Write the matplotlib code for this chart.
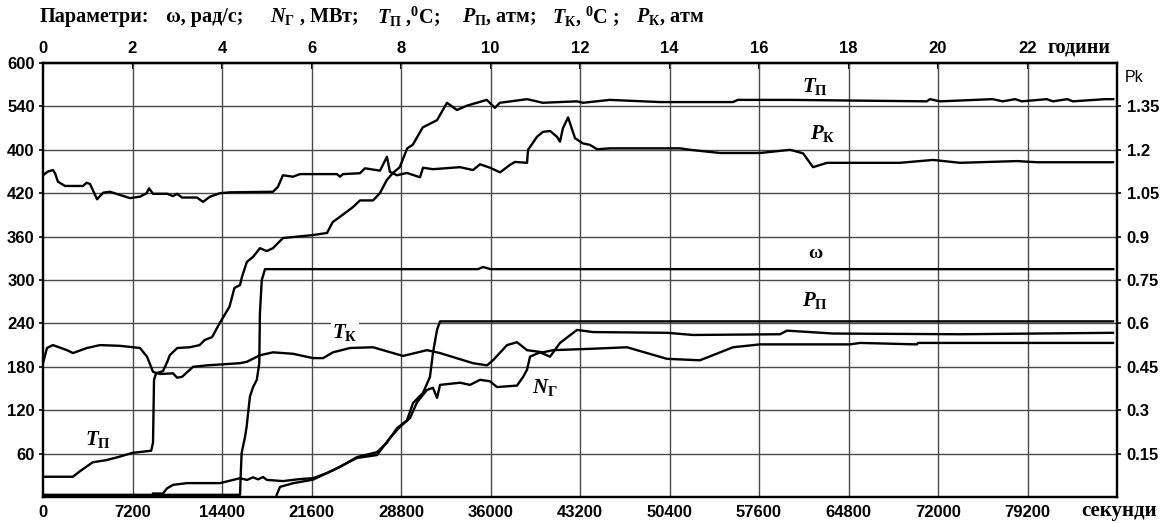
import matplotlib
matplotlib.use("Agg")
import matplotlib.pyplot as plt
from matplotlib import font_manager as fm

# ---------------- data ----------------
# time in seconds; T, omega, N on left scale; pressures on right scale (atm)
t_tp = [0, 2400, 3000, 4000, 5100, 6000, 7200, 8700, 8850, 8930, 9100, 9650, 10000, 10200,
        10800, 11800, 12600, 13000, 13600, 14200, 15000, 15400, 15850, 16000, 16400, 16900,
        17450, 18000, 18500, 19300, 21650, 22850, 23300, 24100, 24950, 25500, 26550, 27100,
        27650, 28150, 28700, 29300, 29750, 30550, 31700, 32500, 33300, 34100, 35700, 36350,
        36750, 38950, 40200, 42950, 43450, 45600, 49650, 55500, 55900, 60100, 71100, 71350,
        72150, 76400, 77200, 78200, 78750, 80750, 81250, 82400, 82850, 85450, 86100]
v_tp = [28, 28, 36, 48, 51, 55, 61, 64, 75, 162, 171, 174, 187, 196, 206, 207, 210, 217, 221,
        240, 263, 289, 293, 304, 325, 332, 344, 340, 344, 358, 362, 365, 380, 390, 401, 410,
        410, 420, 438, 448, 456, 482, 487, 511, 521, 545, 535, 541, 549, 538, 545, 550, 545,
        547, 545, 549, 546, 546, 549, 549, 547, 550, 547, 550, 547, 550, 547, 550, 547, 550,
        547, 550, 550]

t_w = [0, 15850, 15900, 15980, 16250, 16380, 16500, 16650, 16900, 17200, 17400, 17450, 17600,
       17860, 35000, 35400, 36000, 86100]
v_w = [3, 3, 28, 61, 83, 97, 116, 139, 152, 162, 185, 254, 300, 315, 315, 318, 315, 315]

t_n = [18800, 19070, 20110, 21720, 23330, 25260, 26870, 27920, 28720, 29520, 30090, 30890,
       31370, 31700, 31940, 33550, 34350, 35160, 35960, 36520, 38130, 38620, 38940, 39180,
       39980, 40790, 41590, 42960, 44250, 50200, 52300, 59290, 59850, 63550, 73770, 86080]
v_n = [3, 14, 19, 24, 37, 54, 58, 82, 97, 109, 131, 148, 151, 137, 155, 158, 155, 162, 160,
       152, 154, 166, 176, 194, 200, 194, 213, 231, 228, 227, 224, 225, 230, 226, 225, 227]

t_k = [0, 320, 800, 1930, 2410, 3540, 4590, 6190, 7800, 8370, 8850, 9410, 10460, 10780, 11180,
       12070, 13190, 15850, 16410, 17460, 18500, 20110, 21720, 22530, 23330, 24700, 26550,
       28960, 30890, 31940, 34590, 35720, 36200, 37330, 38130, 38940, 40220, 41030, 44250,
       46980, 50200, 52850, 55510, 57680, 64920, 65730, 70310, 70390, 76990, 86080]
v_k = [185, 206, 210, 203, 199, 206, 210, 209, 206, 194, 173, 170, 171, 165, 166, 180, 182,
       185, 187, 196, 200, 198, 192, 192, 200, 206, 207, 195, 203, 199, 185, 182, 189, 210,
       214, 203, 200, 203, 205, 207, 191, 189, 207, 211, 211, 213, 211, 213, 213, 213]

t_pk = [0, 400, 800, 970, 1200, 1770, 3220, 3500, 3780, 4350, 4850, 5390, 6190, 7000, 7800,
        8340, 8530, 8850, 9980, 10460, 10780, 11180, 12390, 12870, 13440, 14240, 15040, 18500,
        18900, 19300, 20110, 20680, 23650, 23890, 24130, 25500, 25900, 27110, 27670, 27910,
        28480, 29280, 30330, 30570, 31370, 33550, 34590, 35160, 35960, 36770, 37570, 37970,
        38940, 39020, 39740, 40220, 40790, 41350, 41590, 41830, 42240, 42800, 43440, 44000,
        44570, 45610, 51250, 52050, 54460, 57680, 60100, 61140, 61950, 63070, 68940, 71600,
        73770, 78360, 79970, 86080]
v_pk = [1.112, 1.125, 1.13, 1.119, 1.09, 1.075, 1.075, 1.086, 1.082, 1.029, 1.052, 1.055,
        1.044, 1.033, 1.038, 1.05, 1.067, 1.048, 1.048, 1.04, 1.048, 1.035, 1.035, 1.02,
        1.038, 1.05, 1.053, 1.055, 1.072, 1.112, 1.107, 1.116, 1.116, 1.107, 1.116, 1.119,
        1.136, 1.128, 1.176, 1.124, 1.112, 1.12, 1.105, 1.138, 1.133, 1.14, 1.13, 1.15, 1.138,
        1.122, 1.148, 1.158, 1.155, 1.2, 1.245, 1.262, 1.265, 1.245, 1.228, 1.275, 1.312,
        1.24, 1.222, 1.217, 1.202, 1.205, 1.205, 1.2, 1.189, 1.189, 1.2, 1.188, 1.14, 1.155,
        1.155, 1.165, 1.155, 1.161, 1.157, 1.157]

t_pp = [8850, 9650, 9980, 10460, 11580, 14240, 15290, 15850, 16410, 16890, 17300, 17700, 18020,
        19310, 20680, 21720, 22850, 23890, 25260, 26870, 27670, 28480, 29280, 29770, 30570,
        31130, 31370, 31700, 31940, 86080]
v_pp = [0.012, 0.012, 0.03, 0.042, 0.048, 0.048, 0.059, 0.065, 0.059, 0.068, 0.061, 0.069,
        0.059, 0.055, 0.062, 0.065, 0.083, 0.104, 0.138, 0.155, 0.188, 0.238, 0.265, 0.325,
        0.36, 0.415, 0.498, 0.578, 0.607, 0.607]

sec_ticks = [0, 7200, 14400, 21600, 28800, 36000, 43200, 50400, 57600, 64800, 72000, 79200]
hour_ticks = [0, 2, 4, 6, 8, 10, 12, 14, 16, 18, 20, 22]
left_ticks = [60, 120, 180, 240, 300, 360, 420, 480, 540, 600]
left_labels = ["60", "120", "180", "240", "300", "360", "420", "400", "540", "600"]
right_ticks = [0.15, 0.3, 0.45, 0.6, 0.75, 0.9, 1.05, 1.2, 1.35]
right_labels = ["0.15", "0.3", "0.45", "0.6", "0.75", "0.9", "1.05", "1.2", "1.35"]

title_parts = ["Параметри:", "ω, рад/с;", r"$N_{\mathrm{Г}}$ , МВт;",
               r"$T_{\mathrm{П}}$ ,$^{\mathrm{0}}$C;", r"$P_{\mathrm{П}}$, атм;",
               r"$T_{\mathrm{К}}$, $^{\mathrm{0}}$C ;", r"$P_{\mathrm{К}}$, атм"]

# ---------------- fonts ----------------
avail = {f.name for f in fm.fontManager.ttflist}
if "Liberation Sans Narrow" in avail:
    tick_family = "Liberation Sans Narrow"
    tsize = 13.5
else:
    tick_family = "Liberation Sans"
    tsize = 12
serif = "Liberation Serif"
plt.rcParams["mathtext.fontset"] = "custom"
plt.rcParams["mathtext.rm"] = serif + ":bold"
plt.rcParams["mathtext.it"] = serif + ":italic:bold"
plt.rcParams["mathtext.bf"] = serif + ":bold"

W, H = 1161, 523
fig = plt.figure(figsize=(W / 100, H / 100), dpi=100)
L, R, B, T = 43, 1117, 497, 63
ax = fig.add_axes([L / W, 1 - B / H, (R - L) / W, (B - T) / H])
ax.set_xlim(0, 86400)
ax.set_ylim(0, 600)

ax2 = ax.twinx()
ax2.set_ylim(0, 1.5)

gridc = "#4a4a4a"
for s in sec_ticks[1:]:
    ax.axvline(s, color=gridc, lw=1.0, zorder=1)
for v in left_ticks[:-1]:
    ax.axhline(v, color=gridc, lw=1.0, zorder=1)

lc = "black"
lw = 1.7
ax.plot(t_tp, v_tp, color=lc, lw=lw, zorder=3)
ax.plot(t_w, v_w, color=lc, lw=lw, zorder=3)
ax.plot(t_n, v_n, color=lc, lw=lw, zorder=3)
ax.plot(t_k, v_k, color=lc, lw=lw, zorder=3)
ax2.plot(t_pk, v_pk, color=lc, lw=lw, zorder=3)
ax2.plot(t_pp, v_pp, color=lc, lw=lw, zorder=3)

tickfont = dict(family=tick_family, weight="bold", size=tsize)

ax.set_xticks(sec_ticks)
ax.set_xticklabels([str(s) for s in sec_ticks], fontdict=tickfont)
ax.set_yticks(left_ticks)
ax.set_yticklabels(left_labels, fontdict=tickfont)
ax2.set_yticks(right_ticks)
ax2.set_yticklabels(right_labels, fontdict=tickfont)
ax.tick_params(axis="x", direction="in", length=0, pad=6)
ax.tick_params(axis="y", direction="out", length=3, width=1.2, pad=3)
ax2.tick_params(axis="y", direction="out", length=3, width=1.2, pad=4)

secax = ax.secondary_xaxis("top", functions=(lambda s: s / 3600.0, lambda h: h * 3600.0))
secax.set_xticks(hour_ticks)
secax.set_xticklabels([str(h) for h in hour_ticks], fontdict=tickfont)
secax.tick_params(axis="x", direction="in", length=4, width=1.5, pad=5)

for a in (ax, ax2):
    for sp in a.spines.values():
        sp.set_linewidth(1.6)
        sp.set_color("black")
for sp in secax.spines.values():
    sp.set_linewidth(1.6)

# curve labels
lab = dict(fontsize=15, ha="center", va="center", zorder=5)
ax.text(62100, 567, r"$T_{\mathrm{П}}$", **lab)
ax.text(62700, 503, r"$P_{\mathrm{К}}$", **lab)
ax.text(62100, 337, "ω", fontsize=14, family=serif, weight="bold", ha="center", va="center")
ax.text(62100, 272, r"$P_{\mathrm{П}}$", **lab)
ax.text(24300, 228, r"$T_{\mathrm{К}}$",
        bbox=dict(facecolor="white", edgecolor="none", pad=1.0), **lab)
ax.text(40400, 152, r"$N_{\mathrm{Г}}$", **lab)
ax.text(4400, 80, r"$T_{\mathrm{П}}$", **lab)

# axis unit labels
fig.text(1110 / W, 1 - 47 / H, "години", family=serif, weight="bold", fontsize=14.5,
         ha="right", va="center")
fig.text(1157 / W, 1 - 511 / H, "секунди", family=serif, weight="bold", fontsize=15,
         ha="right", va="center")
fig.text(1125 / W, 1 - 78 / H, "Pk", family=tick_family, fontsize=11.5, ha="left", va="center")

# title, piece by piece
title_x = [40, 166, 270, 377, 462, 552, 636]
for px, txt in zip(title_x, title_parts):
    fig.text(px / W, 1 - 17 / H, txt, family=serif, weight="bold", fontsize=14.5,
             ha="left", va="center")

fig.savefig("out.png", dpi=100, facecolor="white")
